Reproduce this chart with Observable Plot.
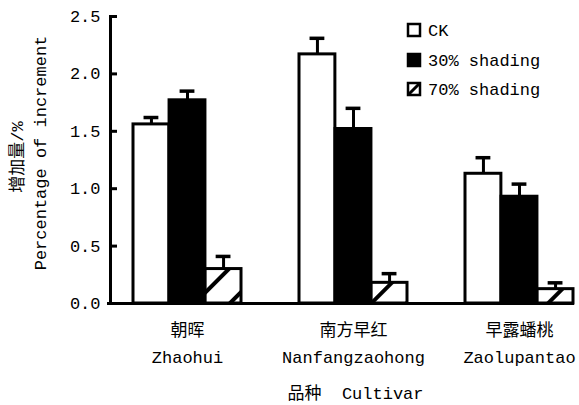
<!DOCTYPE html>
<html><head><meta charset="utf-8">
<script src="https://cdn.jsdelivr.net/npm/d3@7"></script>
<script src="https://cdn.jsdelivr.net/npm/@observablehq/plot@0.6"></script>
<style>body{margin:0;background:#fff}</style>
</head><body><div id="chart"></div>
<script>
// ---- data ----
const cultivarsCN = ["朝晖", "南方早红", "早露蟠桃"];
const cultivarsEN = ["Zhaohui", "Nanfangzaohong", "Zaolupantao"];
const treatments = ["CK", "30% shading", "70% shading"];
const ckValues = [1.56, 2.17, 1.13];
const ckErrors = [0.06, 0.14, 0.14];
const shade30Values = [1.77, 1.52, 0.93];
const shade30Errors = [0.08, 0.18, 0.11];
const shade70Values = [0.30, 0.18, 0.125];
const shade70Errors = [0.11, 0.08, 0.055];
const yTicks = [0, 0.5, 1.0, 1.5, 2.0, 2.5];
const yLabelCN = "增加量/%";
const yLabelEN = "Percentage of increment";
const xLabel = "品种  Cultivar";

const seriesValues = [ckValues, shade30Values, shade70Values];
const seriesErrors = [ckErrors, shade30Errors, shade70Errors];
const rows = [];
treatments.forEach((t, k) => cultivarsEN.forEach((c, i) =>
  rows.push({treatment: t, cultivar: c, value: seriesValues[k][i], error: seriesErrors[k][i]})));

// ---- layout ----
const W = 579, H = 405;
const mL = 110, mR = 5, mT = 16, mB = 102;
const padIn = 0.35, padOut = 0.069, align = 0.957;
const bw = d3.scaleBand().domain(cultivarsEN).range([mL, W - mR])
  .paddingInner(padIn).paddingOuter(padOut).align(align).bandwidth();
const sub = bw / 3;
const capW = 15;
const fills = ["white", "black", "url(#hatch)"];
const font = "Liberation Mono, Courier New, Cousine, Noto Sans CJK SC, monospace";
const cnMap = Object.fromEntries(cultivarsEN.map((c, i) => [c, cultivarsCN[i]]));

const defsMark = () => {
  const ns = "http://www.w3.org/2000/svg";
  const defs = document.createElementNS(ns, "defs");
  defs.innerHTML = `<pattern id="hatch" patternUnits="userSpaceOnUse" width="25" height="25" patternTransform="rotate(45)">
    <rect x="0" y="0" width="25" height="25" fill="white"/>
    <rect x="0" y="0" width="4" height="25" fill="black"/></pattern>`;
  return defs;
};

const legendMark = () => {
  const g = d3.create("svg:g").attr("font-family", font).attr("font-size", 17).attr("text-anchor", "start");
  const x0 = 408, ys = [30, 60, 89], s = 12;
  treatments.forEach((t, k) => {
    const y = ys[k];
    g.append("rect").attr("x", x0).attr("y", y - s / 2).attr("width", s).attr("height", s)
      .attr("fill", k === 1 ? "black" : "white").attr("stroke", "black").attr("stroke-width", 2.5);
    if (k === 2) g.append("line").attr("x1", x0).attr("y1", y + s / 2).attr("x2", x0 + s).attr("y2", y - s / 2)
      .attr("stroke", "black").attr("stroke-width", 3);
    g.append("text").attr("x", x0 + 20).attr("y", y).attr("dy", "0.35em").attr("text-anchor", "start").text(t);
  });
  return g.node();
};

const marks = [defsMark];
treatments.forEach((t, k) => {
  const data = rows.filter(r => r.treatment === t);
  marks.push(Plot.barY(data, {x: "cultivar", y: "value", fill: fills[k], stroke: "black", strokeWidth: 3,
    insetLeft: k * sub, insetRight: (2 - k) * sub}));
});
treatments.forEach((t, k) => {
  const data = rows.filter(r => r.treatment === t);
  const c = (k + 0.5) * sub;
  marks.push(Plot.ruleX(data, {x: "cultivar", y1: "value", y2: d => d.value + d.error, dx: (k - 1) * sub, strokeWidth: 3}));
  marks.push(Plot.tickY(data, {x: "cultivar", y: d => d.value + d.error, strokeWidth: 3.5,
    insetLeft: c - capW / 2, insetRight: bw - c - capW / 2}));
});
marks.push(
  Plot.frame({anchor: "left", strokeWidth: 3}),
  Plot.ruleY([0], {strokeWidth: 3, insetLeft: -3}),
  Plot.axisY({ticks: yTicks, tickFormat: d3.format(".1f"), tickSize: -7, tickPadding: 17, strokeWidth: 3,
    fontSize: 17, label: null}),
  Plot.axisX({tickSize: 0, tickPadding: 14, fontSize: 17, lineHeight: 1.56, label: null,
    tickFormat: d => cnMap[d] + "\n" + d}),
  Plot.text([yLabelCN], {frameAnchor: "left", rotate: -90, textAnchor: "middle", dx: -93, dy: -3, fontSize: 17}),
  Plot.text([yLabelEN], {frameAnchor: "left", rotate: -90, textAnchor: "middle", dx: -70, dy: -7, fontSize: 17}),
  Plot.text([xLabel], {frameAnchor: "bottom", textAnchor: "middle", lineAnchor: "middle", dx: 13, dy: 90, fontSize: 17}),
  legendMark
);

const chart = Plot.plot({
  width: W, height: H,
  marginLeft: mL, marginRight: mR, marginTop: mT, marginBottom: mB,
  style: {fontFamily: font, fontSize: "17px", background: "white", color: "black"},
  x: {type: "band", domain: cultivarsEN, paddingInner: padIn, paddingOuter: padOut, align: align, axis: null},
  y: {domain: [0, 2.5], axis: null},
  marks
});
document.getElementById("chart").appendChild(chart);
</script>
</body></html>
